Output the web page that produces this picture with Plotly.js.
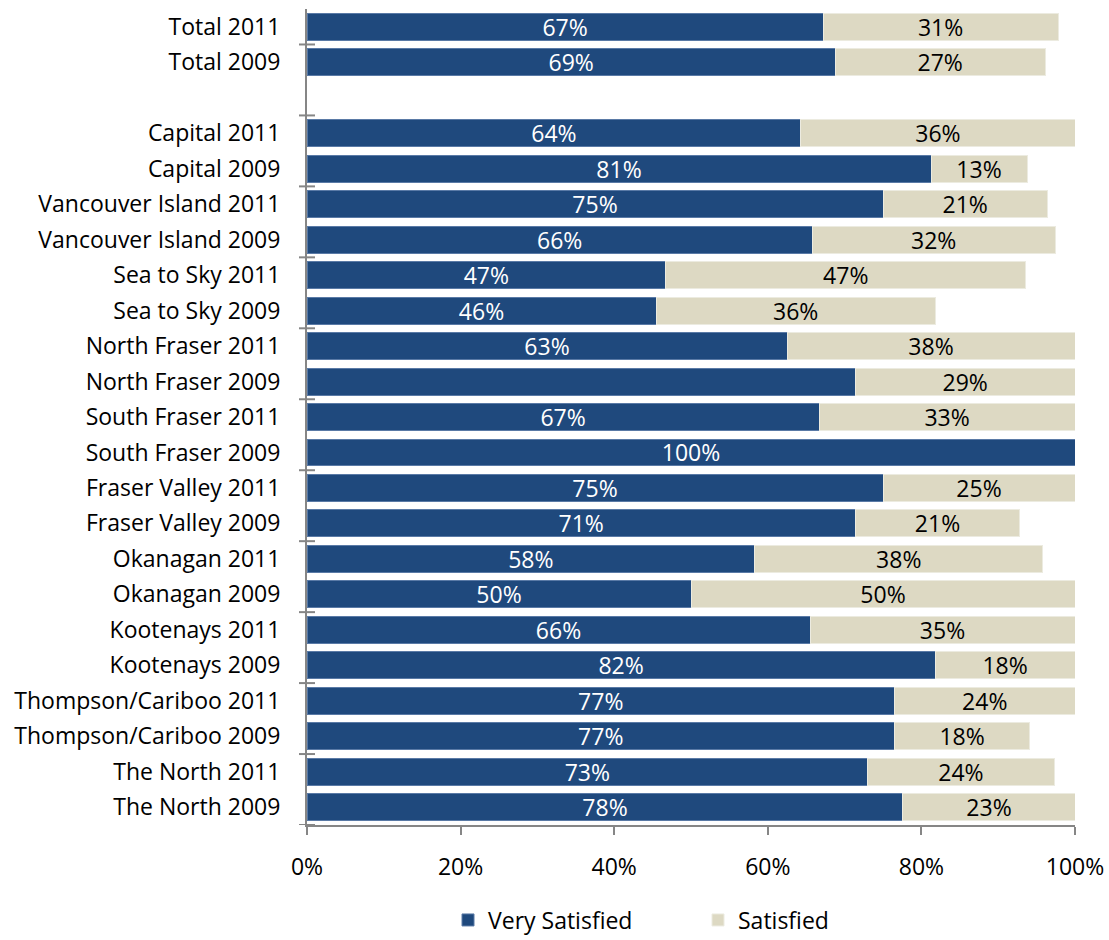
<!DOCTYPE html>
<html>
<head>
<meta charset="utf-8">
<script src="https://cdn.plot.ly/plotly-3.0.1.min.js"></script>
<style>html,body{margin:0;padding:0;background:#fff;}#chart{width:1109px;height:940px;}</style>
</head>
<body>
<div id="chart"></div>
<script>
const categories = [
  "Total 2011", "Total 2009", "",
  "Capital 2011", "Capital 2009",
  "Vancouver Island 2011", "Vancouver Island 2009",
  "Sea to Sky 2011", "Sea to Sky 2009",
  "North Fraser 2011", "North Fraser 2009",
  "South Fraser 2011", "South Fraser 2009",
  "Fraser Valley 2011", "Fraser Valley 2009",
  "Okanagan 2011", "Okanagan 2009",
  "Kootenays 2011", "Kootenays 2009",
  "Thompson/Cariboo 2011", "Thompson/Cariboo 2009",
  "The North 2011", "The North 2009"
];
const verySatisfied = [67.2, 68.8, null, 64.3, 81.25, 75.0, 65.8, 46.7, 45.45, 62.5, 71.4, 66.7, 100, 75.0, 71.4, 58.3, 50.0, 65.5, 81.8, 76.5, 76.5, 73.0, 77.6];
const satisfied     = [30.6, 27.3, null, 35.7, 12.5, 21.4, 31.6, 46.9, 36.36, 37.5, 28.6, 33.3, 0, 25.0, 21.4, 37.5, 50.0, 34.5, 18.2, 23.5, 17.6, 24.3, 22.4];
const verySatisfiedLabels = ["67%","69%","","64%","81%","75%","66%","47%","46%","63%","","67%","100%","75%","71%","58%","50%","66%","82%","77%","77%","73%","78%"];
const satisfiedLabels     = ["31%","27%","","36%","13%","21%","32%","47%","36%","38%","29%","33%","","25%","21%","38%","50%","35%","18%","24%","18%","24%","23%"];
const xTickVals = [0, 20, 40, 60, 80, 100];
const xTickText = ["0%", "20%", "40%", "60%", "80%", "100%"];

const pos = categories.map((c, i) => i);
const boundaries = [];
for (let b = 0.5; b <= categories.length - 0.5; b += 2) boundaries.push(b);

const FONT = "'Open Sans', Lato, sans-serif";
const FS = 23;
const BLUE = "#1F497D";
const BEIGE = "#DDD9C3";
const GRAY = "#868686";

const traces = [
  {
    type: "bar", orientation: "h", name: "Very Satisfied",
    y: pos, x: verySatisfied, text: verySatisfiedLabels,
    textposition: "inside", insidetextanchor: "middle", constraintext: "none",
    textfont: {family: FONT, size: FS, color: "#ffffff"},
    marker: {color: BLUE, line: {color: "#5a7aa6", width: 1}},
    hoverinfo: "x+name"
  },
  {
    type: "bar", orientation: "h", name: "Satisfied",
    y: pos, x: satisfied, text: satisfiedLabels,
    textposition: "inside", insidetextanchor: "middle", constraintext: "none",
    textfont: {family: FONT, size: FS, color: "#000000"},
    marker: {color: BEIGE, line: {color: "#ecebe0", width: 1}},
    hoverinfo: "x+name"
  }
];

// crossing tick marks on the category axis at every second category boundary
const half = 8 / 768;
const tickShapes = boundaries.map(b => ({
  type: "line", xref: "paper", yref: "y",
  x0: -half, x1: half, y0: b, y1: b,
  line: {color: GRAY, width: 2}, layer: "above"
}));

const yRange = [categories.length - 0.5, -0.5];
const layout = {
  width: 1109, height: 940,
  margin: {l: 307, r: 34, t: 9, b: 115},
  barmode: "stack", bargap: 0.24,
  paper_bgcolor: "#ffffff", plot_bgcolor: "#ffffff",
  font: {family: FONT, size: FS, color: "#000000"},
  showlegend: true,
  legend: {
    orientation: "h", xref: "container", yref: "container",
    x: 448 / 1109, xanchor: "left", y: 20 / 940, yanchor: "middle",
    font: {family: FONT, size: FS, color: "#000000"},
    entrywidth: 205, entrywidthmode: "pixels", traceorder: "normal"
  },
  shapes: tickShapes,
  xaxis: {
    range: [0, 100], tickvals: xTickVals, ticktext: xTickText,
    showgrid: false, zeroline: false, showline: true,
    linecolor: GRAY, linewidth: 2,
    ticks: "outside", ticklen: 8, tickwidth: 2, tickcolor: GRAY,
    ticklabelstandoff: 12,
    tickfont: {family: FONT, size: FS, color: "#000000"},
    fixedrange: true
  },
  yaxis: {
    range: yRange, tickvals: pos, ticktext: categories,
    showgrid: false, zeroline: false, showline: true,
    linecolor: GRAY, linewidth: 2,
    ticks: "", ticklabelstandoff: 20,
    tickfont: {family: FONT, size: FS, color: "#000000"},
    fixedrange: true
  }
};

Plotly.newPlot("chart", traces, layout, {displayModeBar: false, staticPlot: true});
</script>
</body>
</html>
